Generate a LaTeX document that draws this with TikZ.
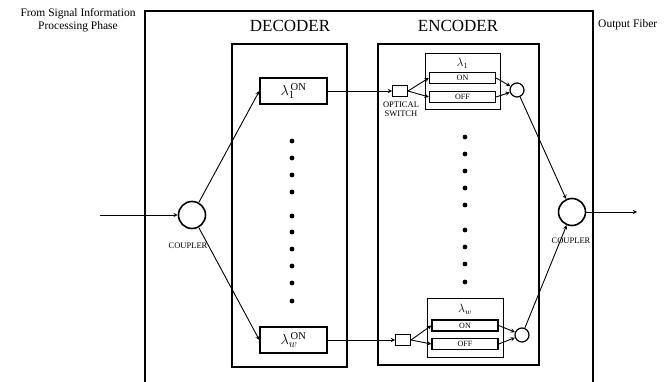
\documentclass[tikz,border=0pt]{standalone}
\usepackage{fontspec}
\setmainfont{Liberation Serif}
\usetikzlibrary{arrows}

\begin{document}
\begin{tikzpicture}[x=1pt, y=-1pt, >=stealth,
    frame/.style={line width=2.2pt},
    wbox/.style={draw, rectangle, line width=1.3pt, minimum width=67pt, minimum height=26pt, inner sep=0pt},
    grp/.style={draw, line width=1pt},
    sel/.style={draw, rectangle, line width=1.3pt, minimum width=66pt, minimum height=11pt, inner sep=0pt, font=\fontsize{8}{9}\selectfont},
    swbox/.style={draw, rectangle, line width=1pt, minimum width=15pt, minimum height=11pt, inner sep=0pt},
    coup/.style={draw, circle, line width=1.6pt, minimum size=27pt, inner sep=0pt},
    comb/.style={draw, circle, line width=1.2pt, minimum size=14pt, inner sep=0pt},
    lbl/.style={font=\fontsize{8.5}{9.5}\selectfont, align=center},
    conn/.style={->, line width=0.9pt}]
    \useasboundingbox (0,0) rectangle (664,382);
    % frames
    \draw[frame] (145,382) -- (145,11) -- (593,11) -- (593,382);
    \draw[frame] (232,44) rectangle (347,367);
    \draw[frame] (378,44) rectangle (539,365);
    \node[font=\fontsize{17}{18}\selectfont] (decT) at (290,26) {DECODER};
    \node[font=\fontsize{17}{18}\selectfont] (encT) at (458,26) {ENCODER};
    \node[font=\fontsize{11.5}{13}\selectfont, align=center] (src) at (78,20) {From Signal Information\\Processing Phase};
    \node[font=\fontsize{11.5}{13}\selectfont, anchor=west, inner sep=0pt] (dst) at (598,25) {Output Fiber};
    % couplers
    \coordinate (in) at (100,215);
    \node[coup] (cIn) at (192,215) {};
    \node[lbl] (cInL) at (188,246) {COUPLER};
    \node[coup] (cOut) at (572,212) {};
    \node[lbl] (cOutL) at (571,241) {COUPLER};
    \coordinate (out) at (637,212);
    % decoder
    \node[wbox] (d1) at (293.5,91) {\fontsize{15}{15}\selectfont$\lambda_1^{\,\fontsize{8}{8}\selectfont\mathrm{ON}}$};
    \node[wbox] (dW) at (293.5,340) {\fontsize{15}{15}\selectfont$\lambda_w^{\,\fontsize{8}{8}\selectfont\mathrm{ON}}$};
    \foreach \y in {141,158,175,192,216,232,249,266,283,301}
        \fill (292,\y) circle (2.4);
    % encoder
    \node[swbox] (s1) at (400,91) {};
    \node[lbl, anchor=north] (s1L) at (401,98) {OPTICAL\\SWITCH};
    \draw[grp] (425,54) rectangle (500,110);
    \node[font=\fontsize{12}{13}\selectfont] (g1) at (462.5,63) {$\lambda_1$};
    \node[sel] (on1) at (462.5,78) {ON};
    \node[sel] (off1) at (462.5,97) {OFF};
    \node[comb] (o1) at (517,90) {};
    \foreach \y in {137,154,171,188,205,230,247,264,282}
        \fill (465,\y) circle (2.4);
    \node[swbox] (sW) at (403,340) {};
    \draw[grp] (427,298) rectangle (503,357);
    \node[font=\fontsize{12}{13}\selectfont] (gW) at (465,309) {$\lambda_w$};
    \node[sel] (onW) at (465,325.5) {ON};
    \node[sel] (offW) at (465,344) {OFF};
    \node[comb] (oW) at (522,335) {};
    % connections
    \draw[conn] (in) -- (cIn);
    \draw[conn] (cIn) -- (d1.west);
    \draw[conn] (cIn) -- (dW.west);
    \draw[conn] (d1) -- (s1);
    \draw[conn] (dW) -- (sW);
    \draw[conn] (s1.east) -- (on1.west);
    \draw[conn] (s1.east) -- (off1.west);
    \draw[conn] (on1.east) -- (o1);
    \draw[conn] (off1.east) -- (o1);
    \draw[conn] (sW.east) -- (onW.west);
    \draw[conn] (sW.east) -- (offW.west);
    \draw[conn] (onW.east) -- (oW);
    \draw[conn] (offW.east) -- (oW);
    \draw[conn] (o1) -- (cOut);
    \draw[conn] (oW) -- (cOut);
    \draw[conn] (cOut) -- (out);
\end{tikzpicture}
\end{document}
